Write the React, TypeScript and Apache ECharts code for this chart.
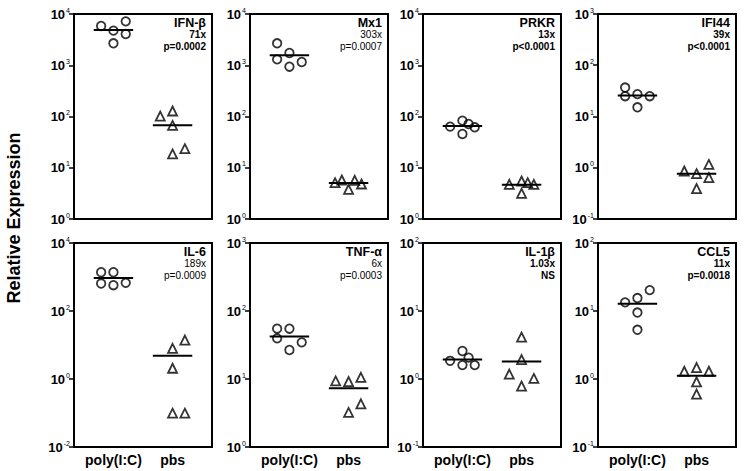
import React, { useEffect, useRef } from "react";
import * as echarts from "echarts";

// ---- data ----
const genes = ["IFN-β", "Mx1", "PRKR", "IFI44", "IL-6", "TNF-α", "IL-1β", "CCL5"];
const folds = ["71x", "303x", "13x", "39x", "189x", "6x", "1.03x", "11x"];
const pvals = ["p=0.0002", "p=0.0007", "p<0.0001", "p<0.0001", "p=0.0009", "p=0.0003", "NS", "p=0.0018"];
const groups = ["poly(I:C)", "pbs"];
const yMinExp = [0, 0, 0, -1, -2, 0, -1, -1];
const yMaxExp = [4, 4, 4, 3, 4, 3, 2, 2];
const yLogBase = [10, 10, 10, 10, 100, 10, 10, 10];

const ifnbPoly = [5830, 4730, 7190, 4070, 2680];
const ifnbPolySlot = [-1, 0, 1, 1, 0];
const ifnbPbs = [102, 128, 67, 18.6, 23.6];
const ifnbPbsSlot = [-1, 0, 0, 0, 1];

const mx1Poly = [2680, 1734, 1304, 1157, 938];
const mx1PolySlot = [-1, 0, -1, 1, 0];
const mx1Pbs = [5.12, 5.77, 3.79, 5.68, 4.82];
const mx1PbsSlot = [-1.1, -0.55, 0, 0.5, 1.05];

const prkrPoly = [63.4, 83, 71.4, 61.5, 45.6];
const prkrPolySlot = [-1, 0, 0.5, 1, 0];
const prkrPbs = [4.75, 5.52, 5.12, 4.75, 3.17];
const prkrPbsSlot = [-1, 0, 0.5, 1, 0];

const ifi44Poly = [36.7, 24.9, 27.3, 24.9, 15.1];
const ifi44PolySlot = [-1, -1, 0, 1, 0];
const ifi44Pbs = [0.865, 0.767, 1.16, 0.643, 0.393];
const ifi44PbsSlot = [-1, 0, 1, 1, 0];

const il6Poly = [1380, 1380, 643, 574, 672];
const il6PolySlot = [-1, 0, -1, 0, 1];
const il6Pbs = [7.98, 14.0, 2.07, 0.099, 0.099];
const il6PbsSlot = [0, 1, 0, 0, 1];

const tnfaPoly = [54.9, 54.9, 39.6, 34.6, 26.7];
const tnfaPolySlot = [-1, 0, -1, 1, 0];
const tnfaPbs = [9.38, 9.18, 10.6, 4.32, 3.22];
const tnfaPbsSlot = [-1.05, 0, 1, 1, 0];

const il1bPoly = [1.85, 2.58, 2.06, 1.6, 1.6];
const il1bPolySlot = [-1, 0, 0.5, 1, 0];
const il1bPbs = [4.14, 1.93, 1.18, 1.02, 0.787];
const il1bPbsSlot = [0, 0, -1, 1, 0];

const ccl5Poly = [13.4, 15.5, 20.3, 9.49, 5.29];
const ccl5PolySlot = [-1, 0, 1, 0, 0];
const ccl5Pbs = [1.3, 1.47, 1.3, 0.91, 0.6];
const ccl5PbsSlot = [-1, 0, 1, 0, 0];

const polyValues = [ifnbPoly, mx1Poly, prkrPoly, ifi44Poly, il6Poly, tnfaPoly, il1bPoly, ccl5Poly];
const polySlots = [ifnbPolySlot, mx1PolySlot, prkrPolySlot, ifi44PolySlot, il6PolySlot, tnfaPolySlot, il1bPolySlot, ccl5PolySlot];
const pbsValues = [ifnbPbs, mx1Pbs, prkrPbs, ifi44Pbs, il6Pbs, tnfaPbs, il1bPbs, ccl5Pbs];
const pbsSlots = [ifnbPbsSlot, mx1PbsSlot, prkrPbsSlot, ifi44PbsSlot, il6PbsSlot, tnfaPbsSlot, il1bPbsSlot, ccl5PbsSlot];
const boldStats = [true, false, true, true, false, false, true, true];

// ---- layout ----
const FONT = "'Liberation Sans', Arial, Helvetica, sans-serif";
const colLeft = [74, 250, 423, 598];
const rowTop = [14, 243];
const rowHeight = [205, 204];
const panelW = 138;
const groupCenter = [2, 5];
const slotStep = 0.624;
const meanHalf = 1.0;

const mean = (a: number[]) => a.reduce((s, v) => s + v, 0) / a.length;

function buildOption() {
  const grid: any[] = [];
  const xAxis: any[] = [];
  const yAxis: any[] = [];
  const series: any[] = [];
  const graphic: any[] = [];

  for (let i = 0; i < 8; i++) {
    const r = Math.floor(i / 4);
    const c = i % 4;
    const left = colLeft[c];
    const top = rowTop[r];
    const h = rowHeight[r];
    grid.push({
      left,
      top,
      width: panelW,
      height: h,
      show: true,
      borderColor: "#000",
      borderWidth: 2,
      backgroundColor: "transparent",
    });
    xAxis.push({
      type: "value",
      gridIndex: i,
      min: 0,
      max: 7,
      interval: 1,
      axisLine: { show: true, lineStyle: { color: "#000", width: 2 } },
      axisTick: { show: false },
      splitLine: { show: false },
      axisLabel: {
        show: r === 1,
        margin: 6,
        fontFamily: FONT,
        fontWeight: "bold",
        fontSize: 14,
        color: "#000",
        formatter: (v: number) => (v === groupCenter[0] ? groups[0] : v === groupCenter[1] ? groups[1] : ""),
      },
    });
    yAxis.push({
      type: "log",
      gridIndex: i,
      logBase: yLogBase[i],
      min: Math.pow(10, yMinExp[i]),
      max: Math.pow(10, yMaxExp[i]),
      axisLine: { show: true, lineStyle: { color: "#000", width: 2 } },
      axisTick: { show: true, length: 5, lineStyle: { color: "#000", width: 1.5 } },
      minorTick: { show: false },
      splitLine: { show: false },
      axisLabel: {
        margin: 4,
        color: "#000",
        formatter: (v: number) => {
          const e = Math.round(Math.log10(v));
          return `{b|10}{s|${e}}`;
        },
        rich: {
          b: { fontSize: 13, fontWeight: "bold", fontFamily: FONT, color: "#000", lineHeight: 15 },
          s: { fontSize: 7, fontFamily: FONT, color: "#000", verticalAlign: "top", lineHeight: 15, padding: [0, 0, 0, 1] },
        },
      },
    });

    const sets = [
      { vals: polyValues[i], slots: polySlots[i], sym: "circle", size: 8.5, cx: groupCenter[0] },
      { vals: pbsValues[i], slots: pbsSlots[i], sym: "triangle", size: 9, cx: groupCenter[1] },
    ];
    sets.forEach((s, k) => {
      series.push({
        type: "scatter",
        name: groups[k],
        xAxisIndex: i,
        yAxisIndex: i,
        symbol: s.sym,
        symbolSize: s.size,
        itemStyle: { color: "rgba(255,255,255,0)", borderColor: "#000", borderWidth: 1.8 },
        data: s.vals.map((v, j) => [s.cx + s.slots[j] * slotStep, v]),
        z: 3,
      });
      const m = mean(s.vals);
      series.push({
        type: "line",
        xAxisIndex: i,
        yAxisIndex: i,
        symbol: "none",
        lineStyle: { color: "#000", width: 2 },
        data: [
          [s.cx - meanHalf, m],
          [s.cx + meanHalf, m],
        ],
        z: 2,
      });
    });

    const rx = left + panelW - 6;
    graphic.push({
      type: "text",
      x: rx,
      y: top + 9,
      style: { text: genes[i], fontFamily: FONT, fontWeight: "bold", fontSize: 12.5, fill: "#000", align: "right", verticalAlign: "middle" },
    });
    graphic.push({
      type: "text",
      x: rx,
      y: top + 20.5,
      style: { text: folds[i], fontFamily: FONT, fontWeight: boldStats[i] ? "bold" : "normal", fontSize: 10, fill: "#000", align: "right", verticalAlign: "middle" },
    });
    graphic.push({
      type: "text",
      x: rx,
      y: top + 32.5,
      style: { text: pvals[i], fontFamily: FONT, fontWeight: boldStats[i] ? "bold" : "normal", fontSize: 10, fill: "#000", align: "right", verticalAlign: "middle" },
    });
  }

  graphic.push({
    type: "text",
    x: 14,
    y: 218,
    rotation: Math.PI / 2,
    style: { text: "Relative Expression", fontFamily: FONT, fontWeight: "bold", fontSize: 18, fill: "#000", align: "center", verticalAlign: "middle" },
  });

  return { animation: false, backgroundColor: "#fff", grid, xAxis, yAxis, series, graphic };
}

export default function App() {
  const ref = useRef<HTMLDivElement>(null);
  useEffect(() => {
    if (!ref.current) return;
    const chart = echarts.init(ref.current, undefined, { renderer: "svg" });
    chart.setOption(buildOption() as any);
    return () => chart.dispose();
  }, []);
  return <div ref={ref} style={{ position: "fixed", left: 0, top: 0, width: 745, height: 471, background: "#fff" }} />;
}
